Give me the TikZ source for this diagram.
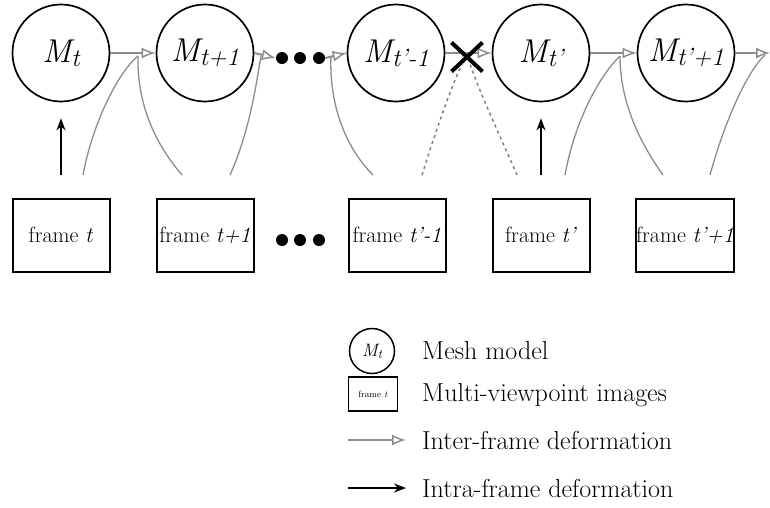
\documentclass[tikz,border=0pt]{standalone}
\usetikzlibrary{arrows.meta,shapes.misc}
\newcommand\meshlab[2]{\fontsize{33}{33}\selectfont\itshape #1\raisebox{-4pt}{\fontsize{25}{25}\selectfont #2}}
\begin{document}
\begin{tikzpicture}[x=1pt,y=-1pt,
  mesh/.style={circle,draw,line width=1.7pt,minimum size=97pt,inner sep=0pt},
  framebox/.style={rectangle,draw,line width=2pt,minimum width=97pt,minimum height=73pt,inner sep=0pt,font=\fontsize{22}{22}\selectfont},
  inter/.style={draw=black!45,line width=2pt,-{Latex[open,length=14pt,width=11pt,line width=1.5pt]}},
  intra/.style={draw=black,line width=1.8pt,-{Stealth[length=12pt,width=9pt]}},
  curve/.style={draw=black!45,line width=1.3pt},
  dcurve/.style={draw=black!50,line width=1.5pt,dash pattern=on 3pt off 3.5pt},
  bigdot/.style={circle,fill=black,inner sep=0pt,minimum size=12pt},
  legtext/.style={anchor=west,inner sep=0pt,font=\fontsize{26}{26}\selectfont}
]
\useasboundingbox (0,0) rectangle (770,507);

% mesh models
\node[mesh] (M1) at (61,53) {\meshlab{M}{t}};
\node[mesh] (M2) at (205,53) {\meshlab{M}{t+1}};
\node[mesh] (M4) at (396,53) {\meshlab{M}{t'-1}};
\node[mesh] (M5) at (541,53) {\meshlab{M}{t'}};
\node[mesh] (M6) at (686,53) {\meshlab{M}{t'+1}};
\node[bigdot] (D1) at (282,58) {};
\node[bigdot] (D2) at (300,58) {};
\node[bigdot] (D3) at (319,58) {};
\coordinate (E) at (770,53);

% frames
\node[framebox] (F1) at (61,235) {frame \textit{t}};
\node[framebox] (F2) at (205,235) {frame \textit{t+1}};
\node[framebox] (F4) at (397,235) {frame \textit{t'-1}};
\node[framebox] (F5) at (541,235) {frame \textit{t'}};
\node[framebox] (F6) at (685,235) {frame \textit{t'+1}};
\node[bigdot] (B1) at (282,240) {};
\node[bigdot] (B2) at (300,240) {};
\node[bigdot] (B3) at (319,240) {};

% curve start points and joins
\coordinate (a1) at (83,175);  \coordinate (b1) at (182,175); \coordinate (h1) at (138,56);
\coordinate (a2) at (230,175); \coordinate (h2) at (261,56);
\coordinate (b3) at (373,175); \coordinate (h3) at (331,56);
\coordinate (c1) at (422,175); \coordinate (c2) at (517,175);
\coordinate (x1) at (462,64);  \coordinate (x2) at (470,64);
\coordinate (a5) at (565,175); \coordinate (b5) at (663,175); \coordinate (h5) at (620,56);
\coordinate (a6) at (710,175); \coordinate (h6) at (765,55);

% curves (drawn first, below arrows)
\draw[curve] (a1) .. controls (92,125) and (118,72) .. (h1);
\draw[curve] (b1) .. controls (152,140) and (137,100) .. (h1);
\draw[curve] (a2) .. controls (250,130) and (256,85) .. (h2);
\draw[curve] (b3) .. controls (343,145) and (329,100) .. (h3);
\draw[dcurve] (c1) .. controls (436,130) and (452,85) .. (x1);
\draw[dcurve] (c2) .. controls (495,125) and (478,88) .. (x2);
\draw[curve] (a5) .. controls (575,120) and (600,75) .. (h5);
\draw[curve] (b5) .. controls (638,140) and (620,100) .. (h5);
\draw[curve] (a6) .. controls (725,120) and (748,70) .. (h6);

% inter-frame arrows
\draw[inter] (M1) -- (M2);
\draw[inter] (M2.east) -- (D1.west);
\draw[inter] (D3.east) -- (M4.west);
\draw[inter] (M4) -- (M5);
\draw[inter] (M5) -- (M6);
\draw[inter] (M6) -- (E);

% cross
\node[cross out,draw=black,line width=4pt,minimum width=27pt,minimum height=25pt,inner sep=0pt] (X) at (467,57) {};

% intra-frame arrows
\draw[intra,shorten <=23pt,shorten >=16pt] (F1) -- (M1);
\draw[intra,shorten <=23pt,shorten >=16pt] (F5) -- (M5);

% legend
\node[circle,draw,line width=1.5pt,minimum size=45pt,inner sep=0pt] (LM) at (372,351)
  {\fontsize{18}{18}\selectfont\itshape M\raisebox{-2pt}{\fontsize{13}{13}\selectfont t}};
\node[rectangle,draw,line width=1.8pt,minimum width=49pt,minimum height=34pt,inner sep=0pt] (LF) at (373,394)
  {\fontsize{9}{9}\selectfont frame \textit{t}};
\coordinate (g1) at (348,440); \coordinate (g2) at (406,440);
\coordinate (k1) at (348,488); \coordinate (k2) at (406,488);
\draw[inter] (g1) -- (g2);
\draw[intra] (k1) -- (k2);
\node[legtext] (T1) at (422,351) {Mesh model};
\node[legtext] (T2) at (422,395) {Multi-viewpoint images};
\node[legtext] (T3) at (422,440) {Inter-frame deformation};
\node[legtext] (T4) at (422,488) {Intra-frame deformation};
\end{tikzpicture}
\end{document}
